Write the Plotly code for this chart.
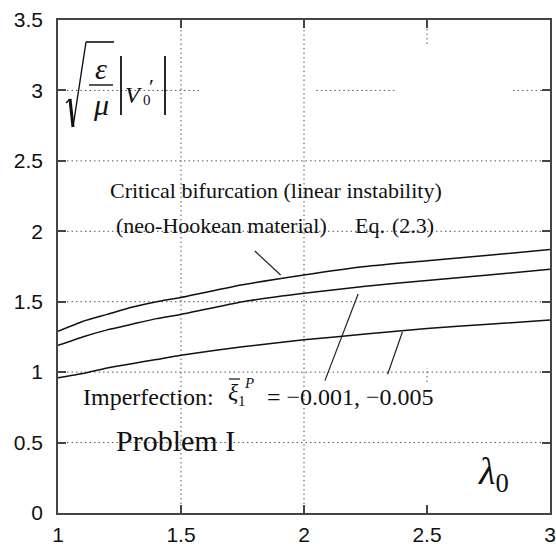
import plotly.graph_objects as go

# ---- data ----
lambda0 = [1.0, 1.1, 1.2, 1.3, 1.4, 1.5, 1.75, 2.0, 2.25, 2.5, 2.75, 3.0]
critical = [1.29, 1.36, 1.41, 1.46, 1.50, 1.53, 1.62, 1.69, 1.75, 1.79, 1.83, 1.87]
imperf_001 = [1.19, 1.25, 1.30, 1.34, 1.38, 1.41, 1.50, 1.56, 1.61, 1.65, 1.69, 1.73]
imperf_005 = [0.96, 0.99, 1.03, 1.06, 1.09, 1.12, 1.18, 1.23, 1.27, 1.31, 1.34, 1.37]

x_ticks = [1, 1.5, 2, 2.5, 3]
x_tick_labels = ["1", "1.5", "2", "2.5", "3"]
y_ticks = [0, 0.5, 1, 1.5, 2, 2.5, 3, 3.5]
y_tick_labels = ["0", "0.5", "1", "1.5", "2", "2.5", "3", "3.5"]

# grid segments (MATLAB-like partial dotted grid)
h_grid = [(0.5, 1, 3), (1.0, 1, 3), (1.5, 1, 3), (2.0, 1, 3), (2.5, 1, 3),
          (3.0, 1, 1.58), (3.0, 2.05, 2.37), (3.0, 2.85, 3)]
v_grid = [(1.5, 0, 3.5), (2.0, 0, 3.5), (2.5, 3.33, 3.5), (2.5, 0.93, 1.03)]

# leader lines (x0, y0, x1, y1) in data units
leaders = [(1.80, 1.86, 1.905, 1.69),
           (2.22, 1.555, 2.085, 0.94),
           (2.40, 1.285, 2.34, 0.985)]

L, R, T, B = 58, 6, 20, 34
W, H = 556, 547
PW, PH = W - L - R, H - T - B


def P(px, py):
    return (px - L) / PW, (H - B - py) / PH


fig = go.Figure()
for ys in (critical, imperf_001, imperf_005):
    fig.add_trace(go.Scatter(x=lambda0, y=ys, mode="lines",
                             line=dict(color="#111", width=1.5, shape="spline", smoothing=0.5),
                             showlegend=False, hoverinfo="skip"))

shapes = []
gstyle = dict(color="#555", width=1, dash="1.5px,3px")
for y, xa, xb in h_grid:
    shapes.append(dict(type="line", xref="x", yref="y", x0=xa, x1=xb, y0=y, y1=y,
                       line=gstyle, layer="below"))
for x, ya, yb in v_grid:
    shapes.append(dict(type="line", xref="x", yref="y", x0=x, x1=x, y0=ya, y1=yb,
                       line=gstyle, layer="below"))
for x0, y0, x1, y1 in leaders:
    shapes.append(dict(type="line", xref="x", yref="y", x0=x0, y0=y0, x1=x1, y1=y1,
                       line=dict(color="#222", width=1.2)))


def pline(p0, p1, width, color="#111"):
    a0, b0 = P(*p0)
    a1, b1 = P(*p1)
    shapes.append(dict(type="line", xref="paper", yref="paper", x0=a0, y0=b0, x1=a1, y1=b1,
                       line=dict(color=color, width=width)))


# y-axis label decorations: radical sign, fraction bar, absolute bars, overline on xi
pline((66, 103), (70, 99), 1.4)
pline((70, 99), (73, 127), 3.0)
pline((73, 127), (86, 42), 1.4)
pline((86, 42), (114, 42), 1.6)
pline((89, 85), (113, 85), 1.4)
pline((121, 56), (121, 115), 1.8)
pline((165, 56), (165, 115), 1.8)
pline((229, 379), (240, 379), 1.2)

serif = "Liberation Serif, Times New Roman, serif"
ann = []


def txt(px, py, text, size, xanchor="center", yanchor="middle"):
    x, y = P(px, py)
    ann.append(dict(xref="paper", yref="paper", x=x, y=y, text=text, showarrow=False,
                    xanchor=xanchor, yanchor=yanchor,
                    font=dict(family=serif, size=size, color="#111")))


txt(101, 68, "<i>ε</i>", 30)
txt(101, 104, "<i>μ</i>", 30)
txt(123, 95, "<i>V</i>", 24, xanchor="left")
txt(141, 100, "0", 15, xanchor="left")
txt(147, 86, "′", 22, xanchor="left")
txt(108, 190, "Critical bifurcation (linear instability)", 22, xanchor="left")
txt(114, 225, "(neo-Hookean material)", 22, xanchor="left")
txt(353, 225, "Eq.", 22, xanchor="left")
txt(436, 225, "(2.3)", 22, xanchor="right")
txt(81, 397, "Imperfection:", 24, xanchor="left")
txt(226, 392, "<i>ξ</i>", 24, xanchor="left")
txt(236, 401, "1", 15, xanchor="left")
txt(242, 383, "<i>P</i>", 15, xanchor="left")
txt(436, 397, "= −0.001, −0.005", 24, xanchor="right")
txt(114, 440, "Problem I", 30, xanchor="left")
txt(476, 474, "<i>λ</i><sub>0</sub>", 38, xanchor="left")

fig.update_layout(
    width=W, height=H,
    margin=dict(l=L, r=R, t=T, b=B, pad=0),
    paper_bgcolor="white", plot_bgcolor="white",
    shapes=shapes, annotations=ann,
    xaxis=dict(range=[1, 3], tickvals=x_ticks, ticktext=x_tick_labels,
               ticks="inside", ticklen=8, tickwidth=1.5, tickcolor="#444",
               showline=True, linecolor="#444", linewidth=1.5, mirror="ticks",
               showgrid=False, zeroline=False, ticklabelstandoff=2, automargin=False,
               tickfont=dict(family="Liberation Sans, Arial", size=21, color="#111")),
    yaxis=dict(range=[0, 3.5], tickvals=y_ticks, ticktext=y_tick_labels,
               ticks="inside", ticklen=8, tickwidth=1.5, tickcolor="#444",
               showline=True, linecolor="#444", linewidth=1.5, mirror="ticks",
               showgrid=False, zeroline=False, ticklabelstandoff=9, automargin=False,
               tickfont=dict(family="Liberation Sans, Arial", size=21, color="#111")),
)

fig.write_html("out.html")
